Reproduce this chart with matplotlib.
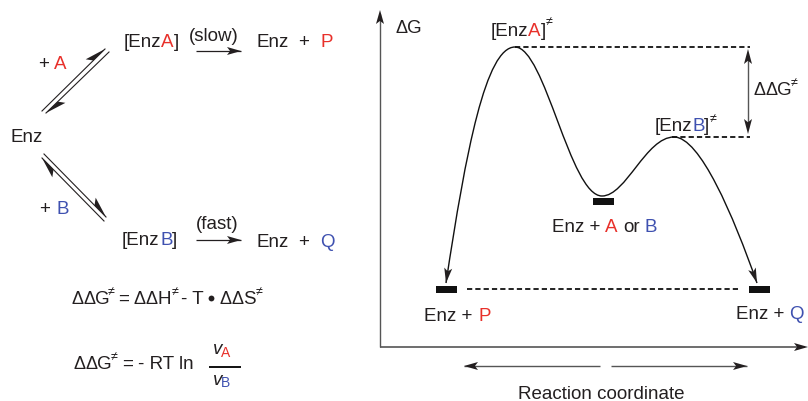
import matplotlib
matplotlib.use('Agg')
import matplotlib.pyplot as plt
from matplotlib.path import Path
from matplotlib.patches import PathPatch, Polygon, Rectangle
import numpy as np

plt.rcParams['font.family'] = ['Liberation Sans', 'DejaVu Sans']

BLACK = '#231F20'
RED = '#E8302A'
BLUE = '#3F51B0'
GREY = '#555555'

# energy profile as bezier nodes and handles (pixels)
curve_x = [446, 466, 486, 515, 545, 570, 602, 626, 646, 674, 700, 733, 757]
curve_y = [283, 150, 47, 47, 47, 196, 196, 196, 137, 137, 137, 215, 283]

fig = plt.figure(figsize=(8.08, 4.01), dpi=100)
ax = fig.add_axes([0, 0, 1, 1])
ax.set_xlim(0, 808)
ax.set_ylim(401, 0)
ax.axis('off')


def txt(x, y, parts, size=13.5):
    # parts is a list of (x offset from x, string, colour)
    for dx, s, c in parts:
        ax.text(x + dx, y, s, color=c, fontsize=size, ha='left', va='baseline')


def delta(x, y, letter, n=2):
    # delta signs are set tighter than the font does it
    for i in range(n):
        ax.text(x + i * 12, y, 'Δ', color=BLACK, fontsize=13, ha='left', va='baseline')
    ax.text(x + n * 12 - 0.5, y, letter, color=BLACK, fontsize=13.5, ha='left', va='baseline')


def head(tip, frm, length=14, half=4, color=BLACK, side=0):
    # stealth style arrow head, side=-1 gives a one sided harpoon
    tip = np.array(tip, float)
    d = tip - np.array(frm, float)
    d = d / np.hypot(*d)
    n = np.array([-d[1], d[0]])
    neck = tip - d * length * 0.78
    a = tip - d * length + n * half
    b = tip - d * length - n * half
    if side == 0:
        pts = [tip, a, neck, b]
    else:
        pts = [tip, tip - d * length + side * n * half * 2, neck]
    ax.add_patch(Polygon(pts, closed=True, fc=color, ec='none', zorder=3))


def arrow(p0, p1, color=BLACK, lw=0.9, length=14, half=4):
    ax.plot([p0[0], p1[0]], [p0[1], p1[1]], color=color, lw=lw, solid_capstyle='butt')
    head(p1, p0, length, half, BLACK)


def dash(x0, x1, y):
    ax.plot([x0, x1], [y, y], color='#111111', lw=1.3, dashes=(2.9, 1.7))


def bar(x0, x1, y0, y1):
    ax.add_patch(Rectangle((x0, y0), x1 - x0, y1 - y0, fc='#111111', ec='none'))


def ne(x, y):
    ax.text(x, y, '≠', color=BLACK, fontsize=9, ha='left', va='baseline')


# left scheme, upper branch
txt(124, 47, [(0, '[Enz', BLACK), (37, 'A', RED), (50, ']', BLACK)])
txt(189, 41, [(0, '(slow)', BLACK)])
arrow((196, 51), (241, 51))
txt(257, 47, [(0, 'Enz', BLACK), (41, '+', BLACK), (64, 'P', RED)])
txt(38, 69, [(0, '+', BLACK), (16, 'A', RED)])

ax.plot([42, 105], [111, 49], color=BLACK, lw=0.8)
ax.plot([46, 109], [113, 52], color=BLACK, lw=0.8)
head((105, 49), (42, 111), 21, 3.1, side=-1)
head((46, 113), (109, 52), 21, 3.1, side=-1)

txt(10.5, 142, [(0, 'Enz', BLACK)])

# left scheme, lower branch
ax.plot([44, 106], [154, 217], color=BLACK, lw=0.8)
ax.plot([42, 104], [158, 221], color=BLACK, lw=0.8)
head((42, 158), (104, 221), 21, 3.1, side=-1)
head((106, 217), (44, 154), 21, 3.1, side=-1)

txt(39, 214, [(0, '+', BLACK), (17, 'B', BLUE)])
txt(122, 245, [(0, '[Enz', BLACK), (38, 'B', BLUE), (50, ']', BLACK)])
txt(196, 229, [(0, '(fast)', BLACK)])
arrow((196, 240), (241, 240))
txt(257, 247, [(0, 'Enz', BLACK), (41, '+', BLACK), (63, 'Q', BLUE)])

# equations
delta(71, 304, 'G')
txt(118, 304, [(0, '=', BLACK), (63, '- T', BLACK)])
delta(134, 304, 'H')
delta(220, 304, 'S')
ne(108, 295)
ne(172, 295)
ne(256, 295)
ax.plot(211, 298, 'o', color=BLACK, ms=4.2, mew=0)

delta(74, 369, 'G')
txt(122, 369, [(0, '=', BLACK), (16, '- RT ln', BLACK)])
ne(111, 360)
ax.plot([209, 241], [367, 367], color='#111111', lw=1.4, solid_capstyle='butt')
ax.text(213, 354, 'v', color=BLACK, fontsize=13.5, style='italic', va='baseline')
ax.text(221, 357, 'A', color=RED, fontsize=10, va='baseline')
ax.text(213, 385, 'v', color=BLACK, fontsize=13.5, style='italic', va='baseline')
ax.text(221, 387, 'B', color=BLUE, fontsize=10, va='baseline')

# axes of the energy diagram
ax.plot([380, 380], [347, 14], color=GREY, lw=1.0, solid_capstyle='butt')
ax.plot([380, 805], [347, 347], color=GREY, lw=1.2, solid_capstyle='butt')
head((380, 10), (380, 347), 14, 4)
head((808, 347), (380, 347), 14, 4)
delta(396, 33, 'G', n=1)

# profile
pts = list(zip(curve_x, curve_y))
codes = [Path.MOVETO] + [Path.CURVE4] * (len(pts) - 1)
ax.add_patch(PathPatch(Path(pts, codes), fc='none', ec='#111111', lw=1.0))
head(pts[0], pts[1], 15, 4)
head(pts[-1], pts[-2], 15, 4)

dash(515, 750, 47)
dash(672, 750, 137)
dash(467, 740, 289)

ax.plot([748, 748], [56, 127], color=GREY, lw=1.0)
head((748, 49), (748, 134), 15, 4)
head((748, 134), (748, 49), 15, 4)

bar(593, 614, 198, 205)
bar(436, 457, 286, 293)
bar(749, 770, 286, 293)

txt(491, 36, [(0, '[Enz', BLACK), (37, 'A', RED), (50, ']', BLACK)])
ne(546, 25)
txt(655, 131, [(0, '[Enz', BLACK), (37, 'B', BLUE), (49, ']', BLACK)])
ne(710, 122)
delta(754, 95, 'G')
ne(791, 86)

txt(552, 232, [(0, 'Enz +', BLACK), (53, 'A', RED), (71, 'or', BLACK), (93, 'B', BLUE)])
txt(424, 321, [(0, 'Enz +', BLACK), (54, 'P', RED)])
txt(736, 319, [(0, 'Enz +', BLACK), (53, 'Q', BLUE)])

arrow((600, 366), (464, 366), color=GREY, lw=1.0)
arrow((611, 366), (747, 366), color=GREY, lw=1.0)
txt(518, 399, [(0, 'Reaction coordinate', BLACK)])

plt.savefig('out.png', dpi=100)
